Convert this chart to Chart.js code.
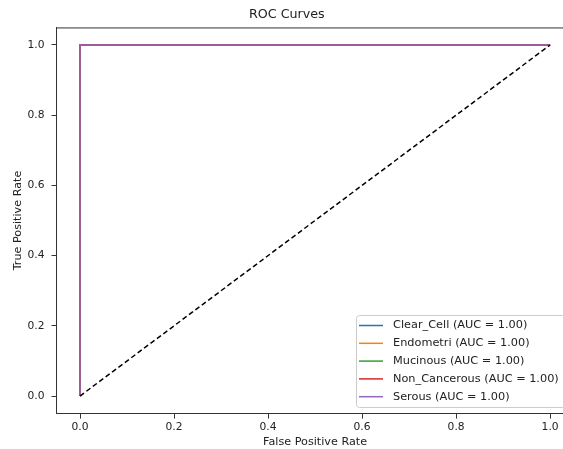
<!DOCTYPE html>
<html>
<head>
<meta charset="utf-8">
<script src="https://cdn.jsdelivr.net/npm/chart.js@4"></script>
<style>
  html, body { margin: 0; padding: 0; background: #fff; overflow: hidden; }
  #wrap { position: relative; width: 584px; height: 449px; }
</style>
</head>
<body>
<div id="wrap"><canvas id="rocChart"></canvas></div>
<script>
// class names and AUC values
var ClassNames = ['Clear_Cell', 'Endometri', 'Mucinous', 'Non_Cancerous', 'Serous'];
var AucValues = [1.00, 1.00, 1.00, 1.00, 1.00];
var Colors = ['#1f77b4', '#ff7f0e', '#2ca02c', '#d62728', '#9467bd'];

// roc points per class
var FprClearCell = [0, 0, 1];
var TprClearCell = [0, 1, 1];
var FprEndometri = [0, 0, 1];
var TprEndometri = [0, 1, 1];
var FprMucinous = [0, 0, 1];
var TprMucinous = [0, 1, 1];
var FprNonCancerous = [0, 0, 1];
var TprNonCancerous = [0, 1, 1];
var FprSerous = [0, 0, 1];
var TprSerous = [0, 1, 1];

// chance line
var ChanceX = [0, 1];
var ChanceY = [0, 1];

var TickValues = [0, 0.2, 0.4, 0.6, 0.8, 1.0];

var FprList = [FprClearCell, FprEndometri, FprMucinous, FprNonCancerous, FprSerous];
var TprList = [TprClearCell, TprEndometri, TprMucinous, TprNonCancerous, TprSerous];

function toPoints(xs, ys) {
    var pts = [];
    xs.forEach((x, i) => pts.push({ x: x, y: ys[i] }));
    return pts;
}

var DataSets = [];
ClassNames.forEach((name, i) => {
    DataSets.push({
        label: name + ' (AUC = ' + AucValues[i].toFixed(2) + ')',
        data: toPoints(FprList[i], TprList[i]),
        borderColor: Colors[i],
        borderWidth: 1.5,
        showLine: true,
        pointRadius: 0,
        fill: false,
        // later classes painted on top, like matplotlib
        order: ClassNames.length - i
    });
});
DataSets.push({
    label: 'chance',
    data: toPoints(ChanceX, ChanceY),
    borderColor: '#000',
    borderWidth: 1.5,
    borderDash: [5, 3],
    showLine: true,
    pointRadius: 0,
    fill: false,
    order: 0
});

var FONT = "'DejaVu Sans', sans-serif";

// top/right spines + legend box in lower right
var boxPlugin = {
    id: 'boxAndLegend',
    afterDatasetsDraw(chart) {
        var ctx = chart.ctx;
        var a = chart.chartArea;
        ctx.save();
        ctx.strokeStyle = '#333';
        ctx.lineWidth = 1;
        ctx.beginPath();
        ctx.moveTo(a.left, a.top + 0.5);
        ctx.lineTo(a.right, a.top + 0.5);
        ctx.lineTo(a.right - 0.5, a.bottom);
        ctx.stroke();

        // legend
        var left = 356, top = 315, w = 214, h = 92, r = 3;
        ctx.fillStyle = 'rgba(255,255,255,0.8)';
        ctx.strokeStyle = '#cccccc';
        ctx.beginPath();
        ctx.roundRect(left + 0.5, top + 0.5, w, h, r);
        ctx.fill();
        ctx.stroke();
        ctx.font = '11.3px ' + FONT;
        ctx.textBaseline = 'middle';
        ctx.fillStyle = '#222';
        for (var i = 0; i < ClassNames.length; i++) {
            var ds = chart.data.datasets[i];
            var y = 325.5 + i * 17.8;
            ctx.strokeStyle = ds.borderColor;
            ctx.lineWidth = 1.5;
            ctx.beginPath();
            ctx.moveTo(359, y);
            ctx.lineTo(383, y);
            ctx.stroke();
            ctx.fillText(ds.label, 393, y);
        }
        ctx.restore();
    }
};

var ctx = document.getElementById('rocChart').getContext('2d');
var rocChart = new Chart(ctx, {
    type: 'scatter',
    data: { datasets: DataSets },
    options: {
        responsive: true,
        maintainAspectRatio: false,
        animation: false,
        layout: { padding: { left: 0, right: 10.4, top: 0, bottom: 0 } },
        plugins: {
            legend: { display: false },
            tooltip: { enabled: false },
            title: {
                display: true,
                text: 'ROC Curves',
                color: '#222',
                font: { family: FONT, size: 12.7, weight: 'normal' },
                padding: { top: 7.4, bottom: 4.8 }
            }
        },
        scales: {
            x: {
                type: 'linear',
                min: -0.05,
                max: 1.05,
                afterFit: function (scale) { scale.height = 35.4; },
                afterBuildTicks: function (scale) {
                    scale.ticks = TickValues.map(v => ({ value: v }));
                },
                title: {
                    display: true,
                    text: 'False Positive Rate',
                    color: '#222',
                    font: { family: FONT, size: 11.2 },
                    padding: { top: 0, bottom: 0.5 }
                },
                ticks: {
                    color: '#222',
                    font: { family: FONT, size: 10.7 },
                    padding: 2,
                    maxRotation: 0,
                    callback: v => v.toFixed(1)
                },
                grid: {
                    drawOnChartArea: false,
                    drawTicks: true,
                    tickLength: 5,
                    color: '#333'
                },
                border: { display: true, color: '#333', width: 1 }
            },
            y: {
                type: 'linear',
                min: -0.05,
                max: 1.05,
                afterFit: function (scale) { scale.width = 56.5; },
                afterBuildTicks: function (scale) {
                    scale.ticks = TickValues.map(v => ({ value: v }));
                },
                title: {
                    display: true,
                    text: 'True Positive Rate',
                    color: '#222',
                    font: { family: FONT, size: 11.2 },
                    padding: { top: 11.4, bottom: 0 }
                },
                ticks: {
                    color: '#222',
                    font: { family: FONT, size: 10.7 },
                    padding: 7,
                    callback: v => v.toFixed(1)
                },
                grid: {
                    drawOnChartArea: false,
                    drawTicks: true,
                    tickLength: 5,
                    color: '#333'
                },
                border: { display: true, color: '#333', width: 1 }
            }
        }
    },
    plugins: [boxPlugin]
});
</script>
</body>
</html>
